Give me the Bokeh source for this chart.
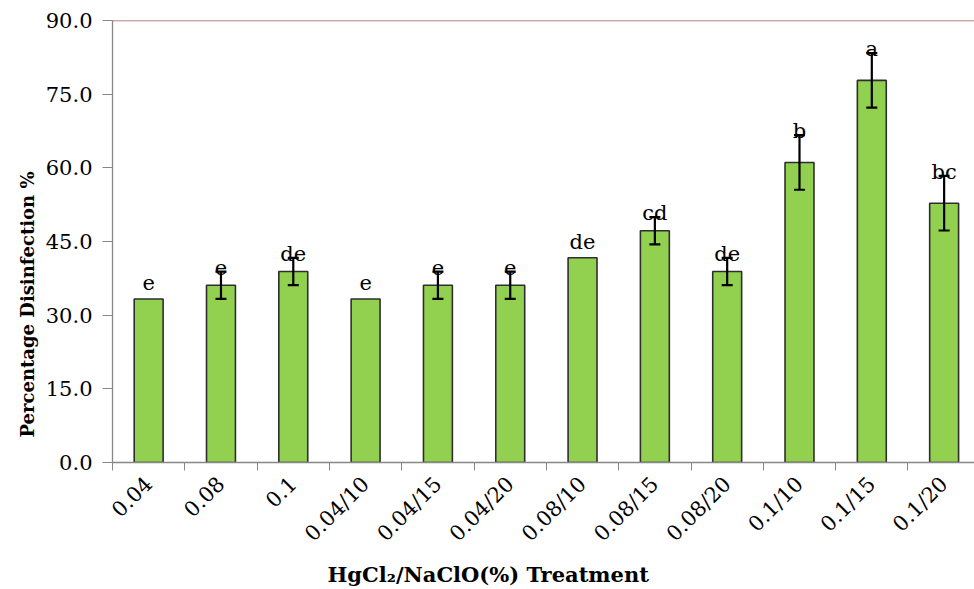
import math

from bokeh.embed import file_html
from bokeh.resources import INLINE
from bokeh.plotting import figure
from bokeh.models import (ColumnDataSource, FixedTicker, Range1d, Span,
                          Whisker, TeeHead, Title, NumeralTickFormatter)
from bokeh.core.properties import value

# Treatments (HgCl2 % alone, or HgCl2 % / NaClO %)
treatments = ["0.04", "0.08", "0.1", "0.04/10", "0.04/15", "0.04/20",
              "0.08/10", "0.08/15", "0.08/20", "0.1/10", "0.1/15", "0.1/20"]
# Mean disinfection (%) and standard error
disinfection = [33.3, 36.1, 38.9, 33.3, 36.1, 36.1,
                41.7, 47.2, 38.9, 61.1, 77.8, 52.8]
std_error = [0.0, 2.78, 2.78, 0.0, 2.78, 2.78,
             0.0, 2.78, 2.78, 5.56, 5.56, 5.56]
# Duncan grouping letters
groups = ["e", "e", "de", "e", "e", "e",
          "de", "cd", "de", "b", "a", "bc"]
y_ticks = [0, 15, 30, 45, 60, 75, 90]

SERIF = "DejaVu Serif"
AXIS_GREY = "#878787"

centers = [i + 0.5 for i in range(len(treatments))]
boundaries = list(range(len(treatments) + 1))

src = ColumnDataSource(dict(
    x=centers,
    top=disinfection,
    label=groups,
    label_y=[v + e + (0.8 if e > 0 else 3.3) for v, e in zip(disinfection, std_error)],
))
err_idx = [i for i, e in enumerate(std_error) if e > 0]
err_src = ColumnDataSource(dict(
    x=[centers[i] for i in err_idx],
    upper=[disinfection[i] + std_error[i] for i in err_idx],
    lower=[disinfection[i] - std_error[i] for i in err_idx],
))

p = figure(width=974, height=589, output_backend="svg", toolbar_location=None,
           x_range=Range1d(0, 11.92), y_range=Range1d(0, 90),
           min_border_left=112, min_border_right=0, min_border_top=20,
           min_border_bottom=127)
p.outline_line_color = None
p.background_fill_color = "white"
p.border_fill_color = "white"
p.xgrid.visible = False
p.ygrid.visible = False

# Bars
p.vbar(x="x", top="top", width=0.4, bottom=0, source=src,
       fill_color="#92D050", line_color="#2E2E2E", line_width=1.6)

# Error bars, drawn above the bars
whisk = Whisker(source=err_src, base="x", upper="upper", lower="lower",
                line_color="black", line_width=2.2,
                upper_head=TeeHead(size=11, line_width=2.2, line_color="black"),
                lower_head=TeeHead(size=11, line_width=2.2, line_color="black"))
whisk.level = "overlay"
p.add_layout(whisk)

# Grouping letters
p.text(x="x", y="label_y", text="label", source=src,
       text_font=value(SERIF), text_font_size="21px", text_color="black",
       text_align="center", text_baseline="alphabetic")

# Top border line at 90
p.add_layout(Span(location=90, dimension="width", line_color="#A85252",
                  line_width=1.5))

# X axis: labels at bar centres, ticks at category boundaries
xa = p.xaxis[0]
xa.ticker = FixedTicker(ticks=centers, minor_ticks=boundaries)
xa.major_label_overrides = {c: t for c, t in zip(centers, treatments)}
xa.major_label_orientation = math.pi / 4
xa.major_tick_out = 0
xa.major_tick_in = 0
xa.minor_tick_out = 8
xa.minor_tick_in = 0
xa.minor_tick_line_color = AXIS_GREY
xa.axis_line_color = AXIS_GREY
xa.axis_line_width = 1.3
xa.major_label_standoff = 10
xa.major_label_text_font = SERIF
xa.major_label_text_font_size = "21px"
xa.major_label_text_color = "black"

# Y axis
ya = p.yaxis[0]
ya.ticker = FixedTicker(ticks=y_ticks)
ya.formatter = NumeralTickFormatter(format="0.0")
ya.major_tick_out = 10
ya.major_tick_in = 0
ya.minor_tick_out = 0
ya.minor_tick_in = 0
ya.major_tick_line_color = AXIS_GREY
ya.axis_line_color = AXIS_GREY
ya.axis_line_width = 1.3
ya.major_label_standoff = 10
ya.major_label_text_font = SERIF
ya.major_label_text_font_size = "21px"
ya.major_label_text_color = "black"

# Axis titles
p.add_layout(Title(text="HgCl₂/NaClO(%) Treatment", align="left", offset=215,
                   text_font=SERIF, text_font_style="bold",
                   text_font_size="21px", text_color="black", standoff=4),
             "below")
p.add_layout(Title(text="Percentage Disinfection %", align="left", offset=25,
                   text_font=SERIF, text_font_style="bold",
                   text_font_size="18px", text_color="black", standoff=10),
             "left")

open("out.html", "w").write(file_html(p, INLINE))
